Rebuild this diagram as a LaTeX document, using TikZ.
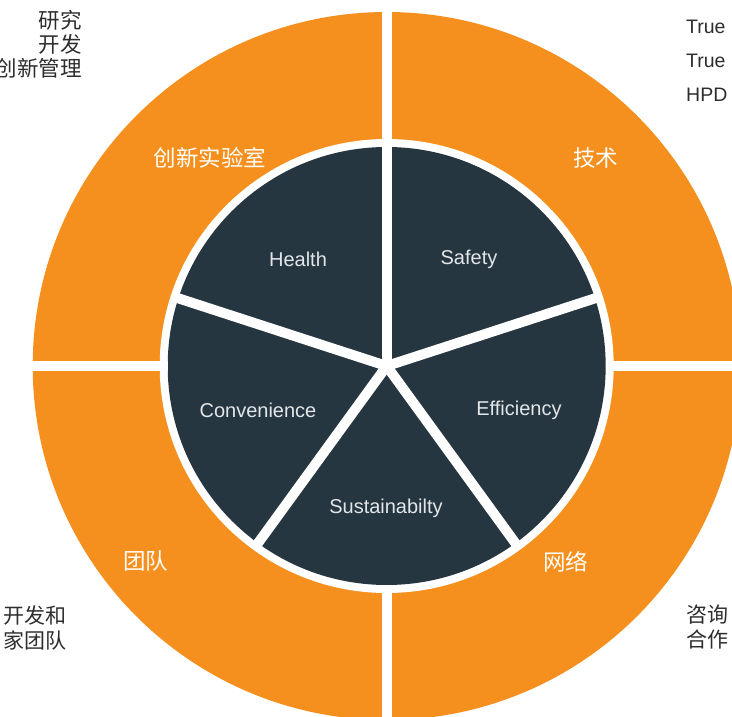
\documentclass[tikz,border=0pt]{standalone}
\usepackage{fontspec}
\setmainfont{Liberation Sans}
\newfontfamily\cjk{Noto Sans CJK SC}
\definecolor{ringorange}{RGB}{245,144,30}
\definecolor{coredark}{RGB}{38,54,64}
\definecolor{labelgray}{RGB}{226,230,233}
\definecolor{sidegray}{RGB}{45,45,45}
\begin{document}
\begin{tikzpicture}[x=1pt,y=1pt,
    core/.style={text=labelgray,font=\fontsize{20}{23}\selectfont},
    ringlabel/.style={text=white,font=\cjk\fontsize{22.5}{26}\selectfont},
    side/.style={text=sidegray,inner sep=0pt}]
\useasboundingbox (-386.7,-350) rectangle (345.3,366);
\clip (-386.7,-350) rectangle (345.3,366);
% rings
\fill[ringorange] (0,0) circle (354pt);
\fill[white] (0,0) circle (227pt);
\fill[coredark] (0,0) circle (219pt);
% gaps in the orange ring
\draw[white,line width=10pt] (0,219) -- (0,360);
\draw[white,line width=10pt] (0,-219) -- (0,-360);
\draw[white,line width=10pt] (-219,0) -- (-360,0);
\draw[white,line width=10pt] (219,0) -- (360,0);
% five slices
\foreach \a in {90,162,234,306,18}
    \draw[white,line width=10pt] (0,0) -- (\a:223);
\fill[white] (0,0) circle (5pt);
% labels
\node[core] (health) at (-88.7,107) {Health};
\node[core] (safety) at (82.3,107) {Safety};
\node[core] (convenience) at (-128.7,-44) {Convenience};
\node[core] (efficiency) at (132.3,-44) {Efficiency};
\node[core] (sustain) at (-0.7,-142) {Sustainabilty};
\node[ringlabel] (lab) at (-176.7,208) {创新实验室};
\node[ringlabel] (tech) at (209.3,208) {技术};
\node[ringlabel] (team) at (-240.7,-195) {团队};
\node[ringlabel] (net) at (179.3,-196) {网络};
% side texts
\node[side,anchor=east,align=right,font=\cjk\fontsize{21.5}{24}\selectfont] (rnd) at (-304.7,322) {研究\\开发\\创新管理};
\node[side,anchor=west,align=left,font=\fontsize{19.5}{34}\selectfont] (true) at (299.3,305) {True\\True\\HPD};
\node[side,anchor=east,align=right,font=\cjk\fontsize{21}{25}\selectfont] (devteam) at (-319.7,-261.5) {开发和\\家团队};
\node[side,anchor=west,align=left,font=\cjk\fontsize{21}{25}\selectfont] (consult) at (299.3,-261) {咨询\\合作};
\end{tikzpicture}
\end{document}
